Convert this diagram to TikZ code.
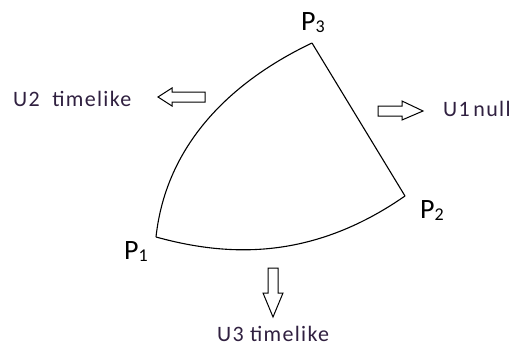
\documentclass[tikz,border=0pt]{standalone}
\usepackage{fontspec}
\setmainfont{Carlito}
\newfontfamily\ufont[LetterSpace=6]{Carlito}
\definecolor{labelcol}{HTML}{302040}
\begin{document}
\begin{tikzpicture}[x=1pt,y=-1pt,
  edge/.style={draw=black,line width=1.1pt},
  blockarrow/.style={draw=black,line width=1pt,fill=white,line join=miter},
  ulabel/.style={inner sep=0pt,text=labelcol,font=\ufont\fontsize{22}{22}\selectfont},
  plabel/.style={inner sep=0pt,text=black,font=\fontsize{28}{28}\selectfont}]
\useasboundingbox (0,0) rectangle (517,351);
\fill[white] (0,0) rectangle (517,351);
% vertices
\coordinate (v1) at (156,237);
\coordinate (v2) at (405,196);
\coordinate (v3) at (312,43);
% edges
\draw[edge] (v1) .. controls (166,145) and (230,82) .. (v3);
\draw[edge] (v3) -- (v2);
\draw[edge] (v1) .. controls (225,256) and (310,262) .. (v2);
% vertex labels
\node[plabel,anchor=base west] (p3) at (301,30) {P\raisebox{-2pt}{\fontsize{18}{18}\selectfont 3}};
\node[plabel,anchor=base west] (p2) at (420,218) {P\raisebox{-2pt}{\fontsize{18}{18}\selectfont 2}};
\node[plabel,anchor=base west] (p1) at (124,259) {P\raisebox{-2pt}{\fontsize{18}{18}\selectfont 1}};
% block arrows
\draw[blockarrow] (205,92) -- (172,92) -- (172,88) -- (158,97) -- (172,106) -- (172,102) -- (205,102) -- cycle;
\draw[blockarrow] (378,106) -- (402,106) -- (402,101) -- (423,111) -- (402,120) -- (402,116) -- (378,116) -- cycle;
\draw[blockarrow] (268,268) -- (278,268) -- (278,293) -- (283,293) -- (273,317) -- (263,293) -- (268,293) -- cycle;
% direction labels
\node[ulabel,anchor=base west] (u2) at (13,106) {U2\ \ timelike};
\node[ulabel,anchor=base west] (u1) at (443,116.5) {U1\,null};
\node[ulabel,anchor=base west] (u3) at (217,341) {U3 timelike};
\end{tikzpicture}
\end{document}
